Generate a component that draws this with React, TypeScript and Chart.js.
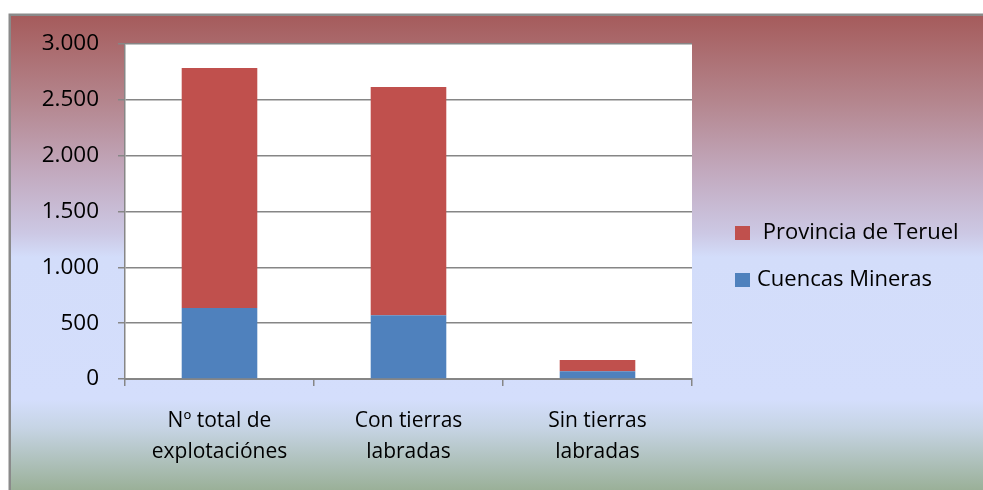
import React, { useEffect, useRef } from "react";
import { Chart, registerables } from "chart.js";

Chart.register(...registerables);

const categories: string[][] = [
  ["Nº total de", "explotaciónes"],
  ["Con tierras", "labradas"],
  ["Sin tierras", "labradas"],
];
const seriesNames = ["Cuencas Mineras", " Provincia de Teruel"];
const cuencasMineras = [636, 571, 69];
const provinciaTeruel = [2148, 2043, 101];
const seriesColors = ["#4F81BD", "#C0504D"];
const yMin = 0;
const yMax = 3000;
const yStep = 500;

const FONT = "'Open Sans', Lato, sans-serif";

const formatThousands = (v: number) =>
  String(Math.round(v)).replace(/\B(?=(\d{3})+(?!\d))/g, ".");

const backgroundPlugin = {
  id: "bgFrame",
  beforeDraw(chart: any) {
    const { ctx, width, height, chartArea } = chart;
    ctx.save();
    ctx.fillStyle = "#ffffff";
    ctx.fillRect(0, 0, width, height);
    const top = 15;
    const left = 10;
    const g = ctx.createLinearGradient(0, top, 0, height);
    g.addColorStop(0, "#A55B5B");
    g.addColorStop(0.18, "#B4858D");
    g.addColorStop(0.33, "#C2A9BE");
    g.addColorStop(0.46, "#CCC8E4");
    g.addColorStop(0.51, "#D3DDFA");
    g.addColorStop(0.81, "#D4DEFC");
    g.addColorStop(0.87, "#C6D4E4");
    g.addColorStop(1, "#9AB098");
    ctx.fillStyle = g;
    ctx.fillRect(left, top, width - left, height - top);
    ctx.strokeStyle = "#8A8A8A";
    ctx.lineWidth = 2.5;
    ctx.beginPath();
    ctx.moveTo(left - 0.25, height);
    ctx.lineTo(left - 0.25, top - 0.25);
    ctx.lineTo(width, top - 0.25);
    ctx.stroke();
    ctx.fillStyle = "#ffffff";
    ctx.fillRect(
      chartArea.left,
      chartArea.top,
      chartArea.right - chartArea.left,
      chartArea.bottom - chartArea.top
    );
    ctx.restore();
  },
};

const legendPlugin = {
  id: "customLegend",
  afterDraw(chart: any) {
    const { ctx } = chart;
    const items = chart.data.datasets
      .map((d: any) => ({ label: d.label, color: d.backgroundColor }))
      .reverse();
    const boxX = 735;
    const startY = 233;
    const gapY = 47;
    ctx.save();
    ctx.font = `22px ${FONT}`;
    ctx.textBaseline = "middle";
    ctx.textAlign = "left";
    items.forEach((it: any, i: number) => {
      const cy = startY + i * gapY;
      ctx.fillStyle = it.color;
      ctx.fillRect(boxX, cy - 7, 15, 14);
      ctx.fillStyle = "#000000";
      ctx.fillText(it.label, boxX + 22, cy);
    });
    ctx.restore();
  },
};

export default function App() {
  const ref = useRef<HTMLCanvasElement | null>(null);
  useEffect(() => {
    if (!ref.current) return;
    const chart = new Chart(ref.current, {
      type: "bar",
      data: {
        labels: categories,
        datasets: [
          {
            label: seriesNames[0],
            data: cuencasMineras,
            backgroundColor: seriesColors[0],
            borderWidth: 0,
          },
          {
            label: seriesNames[1],
            data: provinciaTeruel,
            backgroundColor: seriesColors[1],
            borderWidth: 0,
          },
        ],
      },
      options: {
        responsive: false,
        animation: false,
        devicePixelRatio: 1,
        layout: { padding: { left: 10, top: 44, right: 291, bottom: 0 } },
        datasets: { bar: { categoryPercentage: 1, barPercentage: 0.4 } },
        plugins: {
          legend: { display: false },
          tooltip: { enabled: false },
          title: { display: false },
        },
        scales: {
          x: {
            stacked: true,
            offset: true,
            afterFit: (s: any) => {
              s.height = 111;
            },
            grid: {
              offset: true,
              drawOnChartArea: false,
              drawTicks: true,
              tickLength: 7,
              color: "#868686",
              lineWidth: 1.5,
            },
            border: { display: true, color: "#868686", width: 2 },
            ticks: {
              color: "#000000",
              padding: 19,
              font: { family: FONT, size: 21, lineHeight: 1.48 },
              maxRotation: 0,
              autoSkip: false,
            },
          },
          y: {
            stacked: true,
            min: yMin,
            max: yMax,
            afterFit: (s: any) => {
              s.width = 115;
            },
            grid: {
              drawTicks: true,
              tickLength: 7,
              color: "#868686",
              lineWidth: 1.5,
            },
            border: { display: true, color: "#868686", width: 1.5 },
            ticks: {
              stepSize: yStep,
              color: "#000000",
              padding: 19,
              font: { family: FONT, size: 22.5 },
              callback: (v: any) => formatThousands(Number(v)),
            },
          },
        },
      },
      plugins: [backgroundPlugin, legendPlugin],
    });
    return () => chart.destroy();
  }, []);
  return (
    <div
      style={{
        position: "absolute",
        left: 0,
        top: 0,
        width: 983,
        height: 490,
        margin: 0,
      }}
    >
      <canvas ref={ref} width={983} height={490} style={{ display: "block" }} />
    </div>
  );
}
